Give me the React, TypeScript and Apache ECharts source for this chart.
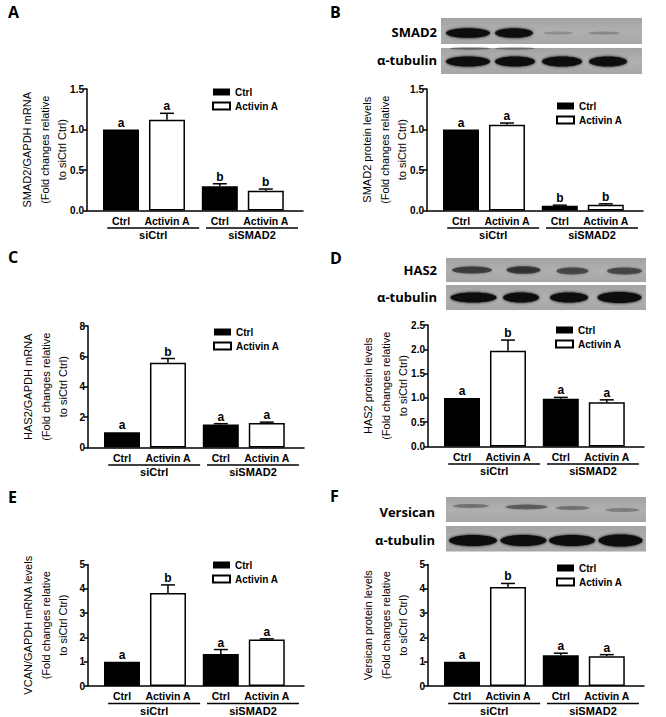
import React, { useEffect, useRef } from "react";
import * as echarts from "echarts";

// ---------- data ----------
const conditions = ["Ctrl", "Activin A"];
const groups = ["siCtrl", "siSMAD2"];
const barLabels = ["Ctrl", "Activin A", "Ctrl", "Activin A"];

const smad2mRNA = [1.0, 1.12, 0.3, 0.245];
const smad2mRNAErr = [0, 0.08, 0.03, 0.02];
const smad2mRNALetters = ["a", "a", "b", "b"];

const smad2Protein = [1.0, 1.06, 0.06, 0.07];
const smad2ProteinErr = [0, 0.02, 0.006, 0.012];
const smad2ProteinLetters = ["a", "a", "b", "b"];

const has2mRNA = [1.0, 5.58, 1.52, 1.62];
const has2mRNAErr = [0, 0.28, 0.05, 0.05];
const has2mRNALetters = ["a", "b", "a", "a"];

const has2Protein = [1.0, 1.97, 0.98, 0.91];
const has2ProteinErr = [0, 0.22, 0.03, 0.05];
const has2ProteinLetters = ["a", "b", "a", "a"];

const vcanMRNA = [1.0, 3.83, 1.32, 1.91];
const vcanMRNAErr = [0, 0.33, 0.18, 0.03];
const vcanMRNALetters = ["a", "b", "a", "a"];

const versicanProtein = [1.0, 4.07, 1.27, 1.22];
const versicanProteinErr = [0, 0.15, 0.08, 0.07];
const versicanProteinLetters = ["a", "b", "a", "a"];

const yMaxes = [1.5, 1.5, 8, 2.5, 5, 5];
const yIntervals = [0.5, 0.5, 2, 0.5, 1, 1];
const yDecimals = [1, 1, 0, 1, 0, 0];

// ---------- layout ----------
const FONT = "'Liberation Sans', Arial, sans-serif";
const BLOT_FONT = "'Open Sans', Lato, sans-serif";
const X_MAX = 4.7;
const FIRST = 0.74;
const GROUP_EXTRA = 0.15;
const xPos = (k: number) => FIRST + Math.floor(k / 2) * (2 + GROUP_EXTRA) + (k % 2);
const groupMid = (g: number) => (xPos(g * 2) + xPos(g * 2 + 1)) / 2;

const GRID_W = 216;
const GRID_H = 121.5;

const panels = [
  { letter: "A", values: smad2mRNA, errors: smad2mRNAErr, letters: smad2mRNALetters,
    yName: ["SMAD2/GAPDH mRNA", "(Fold changes relative", "to siCtrl Ctrl)"],
    grid: { left: 87, top: 89 }, legend: { left: 212, top: 86 }, label: { x: 8, y: 14 } },
  { letter: "B", values: smad2Protein, errors: smad2ProteinErr, letters: smad2ProteinLetters,
    yName: ["SMAD2 protein levels", "(Fold changes relative", "to siCtrl Ctrl)"],
    grid: { left: 427, top: 89 }, legend: { left: 556, top: 100 }, label: { x: 330, y: 14 } },
  { letter: "C", values: has2mRNA, errors: has2mRNAErr, letters: has2mRNALetters,
    yName: ["HAS2/GAPDH mRNA", "(Fold changes relative", "to siCtrl Ctrl)"],
    grid: { left: 88, top: 326 }, legend: { left: 213, top: 326 }, label: { x: 8, y: 259 } },
  { letter: "D", values: has2Protein, errors: has2ProteinErr, letters: has2ProteinLetters,
    yName: ["HAS2 protein levels", "(Fold changes relative", "to siCtrl Ctrl)"],
    grid: { left: 428, top: 325 }, legend: { left: 555, top: 324 }, label: { x: 330, y: 260 } },
  { letter: "E", values: vcanMRNA, errors: vcanMRNAErr, letters: vcanMRNALetters,
    yName: ["VCAN/GAPDH mRNA levels", "(Fold changes relative", "to siCtrl Ctrl)"],
    grid: { left: 88, top: 564.5 }, legend: { left: 212, top: 559 }, label: { x: 8, y: 499 } },
  { letter: "F", values: versicanProtein, errors: versicanProteinErr, letters: versicanProteinLetters,
    yName: ["Versican protein levels", "(Fold changes relative", "to siCtrl Ctrl)"],
    grid: { left: 428, top: 564.5 }, legend: { left: 556, top: 562 }, label: { x: 330, y: 498 } },
];

// western blot decoration (image-like)
type Band = [number, number, number, number, number]; // cx, cy, rx, ry, intensity
const blots = [
  {
    strips: [[441, 18, 201, 26], [441, 48, 201, 26]],
    labels: [["SMAD2", 437, 32], ["α-tubulin", 437, 60]],
    bands: [
      [468, 33, 22, 4.8, 1], [514, 33, 19, 4.8, 0.95], [558, 33, 15, 1.6, 0.18], [604, 33, 16, 1.6, 0.2],
      [468, 61.5, 22, 5, 1], [515, 61.5, 20, 5, 1], [562, 61.5, 20, 5, 1], [608, 61.5, 19, 5, 0.97],
      [470, 48.5, 20, 1.2, 0.35], [515, 48.5, 20, 1.2, 0.3],
    ] as Band[],
  },
  {
    strips: [[446, 258, 200, 24], [446, 285, 200, 25]],
    labels: [["HAS2", 437, 270], ["α-tubulin", 437, 297]],
    bands: [
      [472, 270, 20, 3.6, 0.6], [523.5, 270, 17, 3.8, 0.65], [572.5, 271, 16, 3.4, 0.55], [624.5, 271, 17.5, 3.4, 0.55],
      [473.5, 297.5, 23, 5, 1], [521, 297.5, 18, 5, 1], [569, 297.5, 19, 5, 1], [619.5, 297.5, 22, 5.5, 1],
    ] as Band[],
  },
  {
    strips: [[446, 497, 200, 25], [446, 526, 200, 25.5]],
    labels: [["Versican", 435, 512], ["α-tubulin", 435, 540]],
    bands: [
      [471, 506, 18, 2, 0.3], [526.5, 507, 21, 2.4, 0.4], [572.5, 508, 17, 2, 0.3], [622.5, 510, 17, 2, 0.25],
      [473, 540.5, 24, 5.5, 1], [523.5, 540.5, 23, 5.5, 1], [572, 540.5, 23, 5.5, 1], [620.5, 540.5, 22, 6, 1],
    ] as Band[],
  },
];

function buildOption() {
  const grid: any[] = [];
  const xAxis: any[] = [];
  const yAxis: any[] = [];
  const series: any[] = [];
  const legend: any[] = [];
  const graphic: any[] = [];

  panels.forEach((p, i) => {
    grid.push({ left: p.grid.left, top: p.grid.top, width: GRID_W, height: GRID_H, containLabel: false });
    xAxis.push({
      gridIndex: i, type: "value", min: 0, max: X_MAX,
      axisLine: { show: true, onZero: false, lineStyle: { color: "#000", width: 1.5 } },
      axisTick: { show: false }, axisLabel: { show: false }, splitLine: { show: false },
    });
    const dec = yDecimals[i];
    yAxis.push({
      gridIndex: i, type: "value", min: 0, max: yMaxes[i], interval: yIntervals[i],
      axisLine: { show: true, lineStyle: { color: "#000", width: 1.5 } },
      axisTick: { show: true, length: 4, lineStyle: { color: "#000", width: 1.5 } },
      axisLabel: { color: "#000", fontWeight: "bold", fontSize: 10, fontFamily: FONT, margin: 3,
        formatter: (v: number) => v.toFixed(dec) },
      splitLine: { show: false },
      name: p.yName.join("\n"), nameLocation: "middle", nameRotate: 90, nameGap: 16,
      nameMoveOverlap: false,
      nameTextStyle: { fontSize: 11, lineHeight: 17.5, color: "#000", fontFamily: FONT },
    });
    series.push({
      type: "bar", name: conditions[0], xAxisIndex: i, yAxisIndex: i, barWidth: 36, barGap: "-100%",
      itemStyle: { color: "#000" },
      data: [0, 2].map((k) => [xPos(k), p.values[k]]),
    });
    series.push({
      type: "bar", name: conditions[1], xAxisIndex: i, yAxisIndex: i, barWidth: 36, barGap: "-100%",
      itemStyle: { color: "#fff", borderColor: "#000", borderWidth: 1.5 },
      data: [1, 3].map((k) => [xPos(k), p.values[k]]),
    });
    const letters = p.letters;
    series.push({
      type: "custom", xAxisIndex: i, yAxisIndex: i, silent: true, z: 5,
      data: p.values.map((v, k) => [xPos(k), v, p.errors[k], k]),
      renderItem: (params: any, api: any) => {
        const x = api.value(0), v = api.value(1), e = api.value(2), k = api.value(3);
        const p0 = api.coord([x, v]);
        const p1 = api.coord([x, v + e]);
        const children: any[] = [];
        if (e > 0) {
          children.push({ type: "line", shape: { x1: p0[0], y1: p0[1], x2: p1[0], y2: p1[1] }, style: { stroke: "#000", lineWidth: 1.5 } });
          children.push({ type: "line", shape: { x1: p1[0] - 7, y1: p1[1], x2: p1[0] + 7, y2: p1[1] }, style: { stroke: "#000", lineWidth: 1.5 } });
        }
        children.push({ type: "text", x: p1[0], y: p1[1] - 1,
          style: { text: letters[k], fill: "#000", fontSize: 12, fontWeight: "bold", fontFamily: FONT, align: "center", verticalAlign: "bottom" } });
        return { type: "group", children };
      },
    });
    // category labels
    series.push({
      type: "custom", xAxisIndex: i, yAxisIndex: i, silent: true,
      data: barLabels.map((_, k) => [xPos(k), 0, k]),
      renderItem: (params: any, api: any) => {
        const pt = api.coord([api.value(0), 0]);
        return { type: "text", x: pt[0], y: pt[1] + 10,
          style: { text: barLabels[api.value(2)], fill: "#000", fontSize: 10.5, fontWeight: "bold", fontFamily: FONT, align: "center", verticalAlign: "middle" } };
      },
    });
    // group underline + labels
    series.push({
      type: "custom", xAxisIndex: i, yAxisIndex: i, silent: true,
      data: groups.map((_, g) => [groupMid(g), 0, g]),
      renderItem: (params: any, api: any) => {
        const c = api.value(0);
        const a = api.coord([c - 0.8, 0]);
        const b = api.coord([c + 1.2, 0]);
        const m = api.coord([c + 0.2, 0]);
        return { type: "group", children: [
          { type: "line", shape: { x1: a[0], y1: a[1] + 17.5, x2: b[0], y2: b[1] + 17.5 }, style: { stroke: "#000", lineWidth: 1.5 } },
          { type: "text", x: m[0], y: m[1] + 24.5,
            style: { text: groups[api.value(2)], fill: "#000", fontSize: 11, fontWeight: "bold", fontFamily: FONT, align: "center", verticalAlign: "middle" } },
        ] };
      },
    });
    legend.push({
      left: p.legend.left, top: p.legend.top, orient: "vertical", itemWidth: 17, itemHeight: 7, itemGap: 2,
      icon: "rect", selectedMode: false, padding: 0, data: conditions,
      textStyle: { fontSize: 10, fontWeight: "bold", fontFamily: FONT, color: "#000", lineHeight: 12 },
    });
    graphic.push({ type: "text", left: p.label.x, top: p.label.y - 10,
      style: { text: p.letter, fill: "#000", fontSize: 16, fontWeight: "bold", fontFamily: BLOT_FONT } });
  });

  blots.forEach((bl) => {
    bl.strips.forEach((s) => {
      graphic.push({ type: "rect", shape: { x: s[0], y: s[1], width: s[2], height: s[3] },
        style: { fill: new echarts.graphic.LinearGradient(0, 0, 0, 1, [
          { offset: 0, color: "#a3a3a3" }, { offset: 0.5, color: "#b0b0b0" }, { offset: 1, color: "#a6a6a6" }]) }, z: 1 });
    });
    bl.bands.forEach((b) => {
      const a = b[4];
      graphic.push({ type: "ellipse", shape: { cx: b[0], cy: b[1], rx: b[2], ry: b[3] },
        style: { fill: `rgba(15,15,15,${a})`, shadowBlur: 3, shadowColor: `rgba(15,15,15,${a})` }, z: 2 });
    });
    bl.labels.forEach((l) => {
      graphic.push({ type: "text", x: l[1] as number, y: l[2] as number,
        style: { text: l[0] as string, fill: "#000", fontSize: 13, fontWeight: 700, fontFamily: BLOT_FONT, align: "right", verticalAlign: "middle" }, z: 2 });
    });
  });

  return { animation: false, backgroundColor: "#fff", grid, xAxis, yAxis, series, legend, graphic };
}

export default function App() {
  const ref = useRef<HTMLDivElement>(null);
  useEffect(() => {
    if (!ref.current) return;
    const chart = echarts.init(ref.current, undefined, { renderer: "svg" });
    chart.setOption(buildOption() as any);
    return () => chart.dispose();
  }, []);
  return <div ref={ref} style={{ position: "absolute", left: 0, top: 0, width: 666, height: 717, background: "#fff" }} />;
}
